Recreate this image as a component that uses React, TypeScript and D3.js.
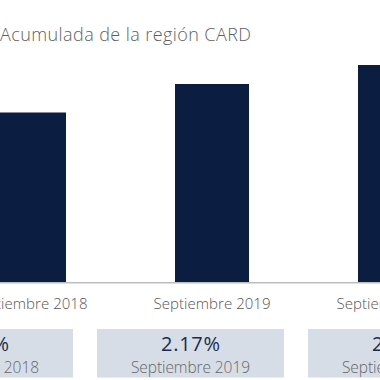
import React from "react";
import * as d3 from "d3";

const titleText = "Acumulada de la región CARD";
const categories = ["Septiembre 2018", "Septiembre 2019", "Septiembre 2020"];
const barValues = [16.95, 19.8, 21.7];
const boxValues = ["1.95%", "2.17%", "2.41%"];

const W = 380;
const H = 380;

export default function App() {
  const x = d3.scalePoint<string>().domain(categories).range([29, 395]);
  const barW = 74;
  const y = d3.scaleLinear().domain([0, 25]).range([282, 32]);
  const bx = d3.scalePoint<string>().domain(categories).range([-20.5, 401.5]);
  const boxW = 187;
  const font = "'Open Sans', Lato, sans-serif";
  return (
    <div style={{ position: "fixed", left: 0, top: 0 }}>
      <svg width={W} height={H} style={{ display: "block", background: "#fff" }}>
        <text x={0} y={41} fontFamily={font} fontWeight={300} fontSize={18} fill="#5f5f5f" textLength={251} lengthAdjust="spacing">
          {titleText}
        </text>
        {categories.map((c, i) => (
          <rect key={c} x={(x(c) ?? 0) - barW / 2} y={y(barValues[i])} width={barW} height={y(0) - y(barValues[i])} fill="#0b1e42" />
        ))}
        <line x1={0} x2={W} y1={282.7} y2={282.7} stroke="#bdbdbd" strokeWidth={1.5} />
        {categories.map((c) => (
          <text key={c} x={x(c)} y={308.5} textAnchor="middle" fontFamily={font} fontWeight={300} fontSize={15} fill="#555" textLength={117} lengthAdjust="spacing">
            {c}
          </text>
        ))}
        {categories.map((c, i) => (
          <g key={c}>
            <rect x={(bx(c) ?? 0) - boxW / 2} y={329} width={boxW} height={48.5} fill="#d6dde6" />
            <text x={bx(c)} y={351} textAnchor="middle" fontFamily={font} fontSize={20} fill="#1b2b4d" textLength={59} lengthAdjust="spacing">
              {boxValues[i]}
            </text>
            <text x={bx(c)} y={372.5} textAnchor="middle" fontFamily={font} fontWeight={300} fontSize={15.5} fill="#666" textLength={119} lengthAdjust="spacing">
              {c}
            </text>
          </g>
        ))}
      </svg>
    </div>
  );
}
